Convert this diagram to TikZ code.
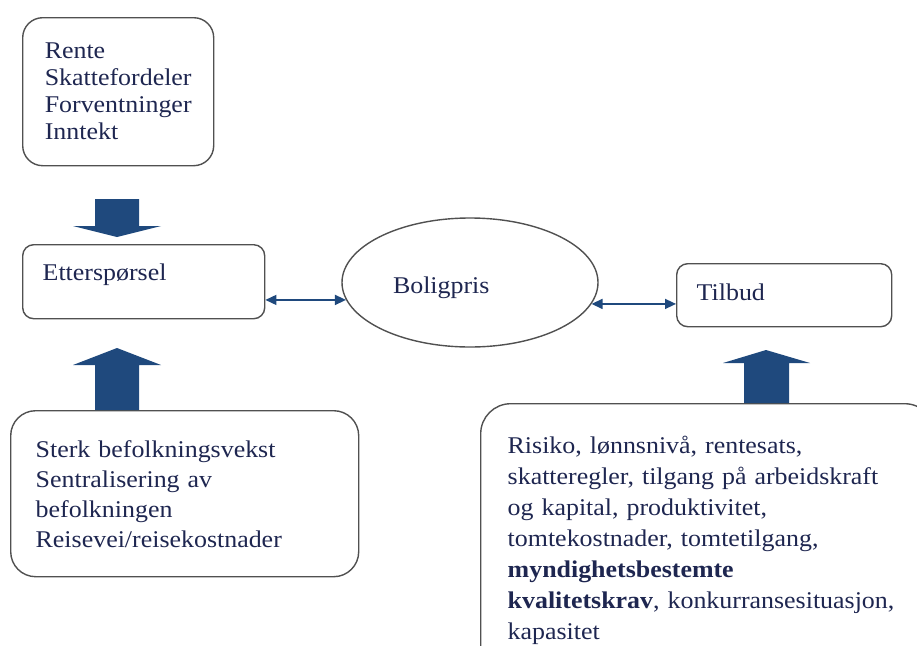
\documentclass[tikz,border=0pt]{standalone}
\usepackage{fontspec}
\setmainfont{Liberation Serif}[FakeStretch=1.08]
\usetikzlibrary{arrows.meta,shapes.geometric,positioning}

\definecolor{arrowblue}{RGB}{31,73,125}
\definecolor{textnavy}{RGB}{30,38,80}
\definecolor{boxgray}{RGB}{80,80,80}
\hyphenpenalty=10000

\tikzset{
	factorbox/.style={draw=boxgray, line width=1.4pt, align=left, text=textnavy,
		anchor=north west, inner sep=0pt, font=\fontsize{24}{27}\selectfont},
	pricebox/.style={draw=boxgray, line width=1.4pt, ellipse, align=left, text=textnavy,
		inner sep=0pt, font=\fontsize{24}{27}\selectfont},
	link/.style={arrowblue, line width=1.5pt, {Triangle[length=11pt,width=10pt]}-{Triangle[length=11pt,width=10pt]}},
	blockarrow/.style={fill=arrowblue}
}

\begin{document}
\begin{tikzpicture}[x=1pt,y=-1pt]
	%\draw[color=gray,step=10pt,help lines,opacity=0.3] (0,0) grid (917,645); %help grids
	\useasboundingbox (0,0) rectangle (917,645);
	% boxes
	\node[factorbox, rounded corners=20pt, minimum width=191pt, minimum height=148pt] (drivers) at (22,17)
		{Rente\\Skattefordeler\\Forventninger\\Inntekt};
	\node[factorbox, rounded corners=11pt, minimum width=242pt, minimum height=74pt,
		text width=202pt, inner xsep=20pt, text depth=19pt] (demand) at (22,244) {Etterspørsel};
	\node[pricebox, minimum width=256pt, minimum height=129pt, text width=154pt, text height=28pt] (pris) at (470,282.5) {Boligpris};
	\node[factorbox, rounded corners=11pt, minimum width=215pt, minimum height=63pt,
		text width=175pt, inner xsep=20pt, text depth=7pt] (supply) at (676,263) {Tilbud};
	\node[factorbox, rounded corners=25pt, minimum width=348pt, minimum height=166pt,
		text width=298pt, inner xsep=25pt, font=\fontsize{24}{30}\selectfont] (population) at (10,410)
		{Sterk befolkningsvekst\\Sentralisering av\\befolkningen\\Reisevei/reisekostnader};
	\node[factorbox, rounded corners=30pt, minimum width=440pt, text width=400pt, inner xsep=27pt, inner ysep=32pt,
		font=\fontsize{24}{31}\selectfont] (costs) at (480,403)
		{Risiko, lønnsnivå, rentesats,\\skatteregler, tilgang på arbeidskraft\\og kapital, produktivitet,\\tomtekostnader, tomtetilgang,\\\textbf{myndighetsbestemte}\\\textbf{kvalitetskrav}, konkurransesituasjon,\\kapasitet};
	% block arrows
	\fill[blockarrow] (95,199) -- (139,199) -- (139,226) -- (161,226) -- (117,237) -- (73,226) -- (95,226) -- cycle;
	\fill[blockarrow] (95,410) -- (139,410) -- (139,365) -- (161,365) -- (117,348) -- (73,365) -- (95,365) -- cycle;
	\fill[blockarrow] (744,403) -- (789,403) -- (789,363) -- (810,363) -- (766,350) -- (723,363) -- (744,363) -- cycle;
	% links to price
	\draw[link] (demand.east |- pris.188) -- (pris.188);
	\draw[link] (pris.350) -- (pris.350 -| supply.west);
\end{tikzpicture}
\end{document}
